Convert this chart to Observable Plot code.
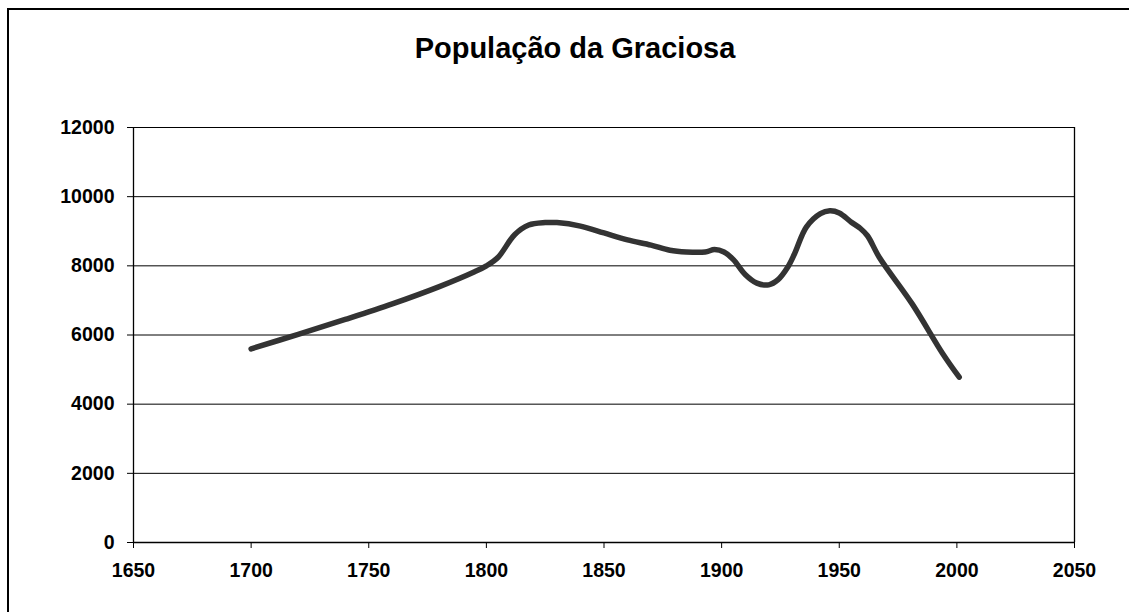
<!DOCTYPE html>
<html>
<head>
<meta charset="utf-8">
<script src="https://cdn.jsdelivr.net/npm/d3@7"></script>
<script src="https://cdn.jsdelivr.net/npm/@observablehq/plot@0.6"></script>
<style>
  html, body { margin: 0; padding: 0; background: #fff; }
  #wrap { position: relative; width: 1129px; height: 612px; overflow: hidden; font-family: "Liberation Sans", Arial, sans-serif; }
  #frame { position: absolute; left: 7px; top: 8px; width: 1200px; height: 700px; border-left: 2px solid #000; border-top: 2px solid #000; }
  #title { position: absolute; left: 0; width: 1150px; top: 32px; text-align: center; font-weight: bold; font-size: 29px; color: #000; }
  #chart { position: absolute; left: 0; top: 0; }
</style>
</head>
<body>
<div id="wrap">
  <div id="frame"></div>
  <div id="title">População da Graciosa</div>
  <div id="chart"></div>
</div>
<script>
const years = [1700, 1720, 1740, 1760, 1780, 1795, 1800, 1805, 1812, 1818, 1825, 1830, 1840, 1850, 1860, 1870, 1878, 1885, 1893, 1897, 1901, 1905, 1910, 1915, 1920, 1924, 1928, 1931, 1936, 1942, 1946, 1950, 1955, 1959, 1962, 1967, 1981, 1994, 2001];
const population = [5600, 6020, 6450, 6900, 7400, 7830, 8000, 8250, 8900, 9180, 9250, 9250, 9150, 8950, 8750, 8600, 8450, 8400, 8400, 8470, 8400, 8180, 7750, 7500, 7450, 7600, 7950, 8350, 9120, 9510, 9590, 9530, 9270, 9080, 8870, 8250, 6900, 5460, 4780];
const xTicks = [1650, 1700, 1750, 1800, 1850, 1900, 1950, 2000, 2050];
const yTicks = [0, 2000, 4000, 6000, 8000, 10000, 12000];

const data = years.map((y, i) => ({year: y, pop: population[i]}));

const chart = Plot.plot({
  width: 1129,
  height: 612,
  marginLeft: 133,
  marginRight: 55,
  marginTop: 127,
  marginBottom: 70,
  style: {fontFamily: "'Liberation Sans', Arial, sans-serif", fontSize: "19.5px", fontWeight: "bold", color: "#000", background: "transparent"},
  x: {domain: [1650, 2050]},
  y: {domain: [0, 12000]},
  marks: [
    Plot.ruleY(yTicks, {stroke: "#000", strokeWidth: 1, strokeOpacity: 1}),
    Plot.ruleX([1650, 2050], {stroke: "#000", strokeWidth: 1.3}),
    Plot.ruleY([0], {stroke: "#000", strokeWidth: 1.5}),
    Plot.axisX({ticks: xTicks, tickFormat: d => String(d), tickSize: 6, tickPadding: 15, label: null, stroke: "#000", strokeOpacity: 1}),
    Plot.axisY({ticks: yTicks, tickFormat: d => String(d), tickSize: 6, tickPadding: 13, label: null, stroke: "#000", strokeOpacity: 1}),
    Plot.line(data, {x: "year", y: "pop", stroke: "#333", strokeWidth: 5.5, curve: "catmull-rom", strokeLinecap: "round", strokeLinejoin: "round"})
  ]
});
document.getElementById("chart").appendChild(chart);
</script>
</body>
</html>
